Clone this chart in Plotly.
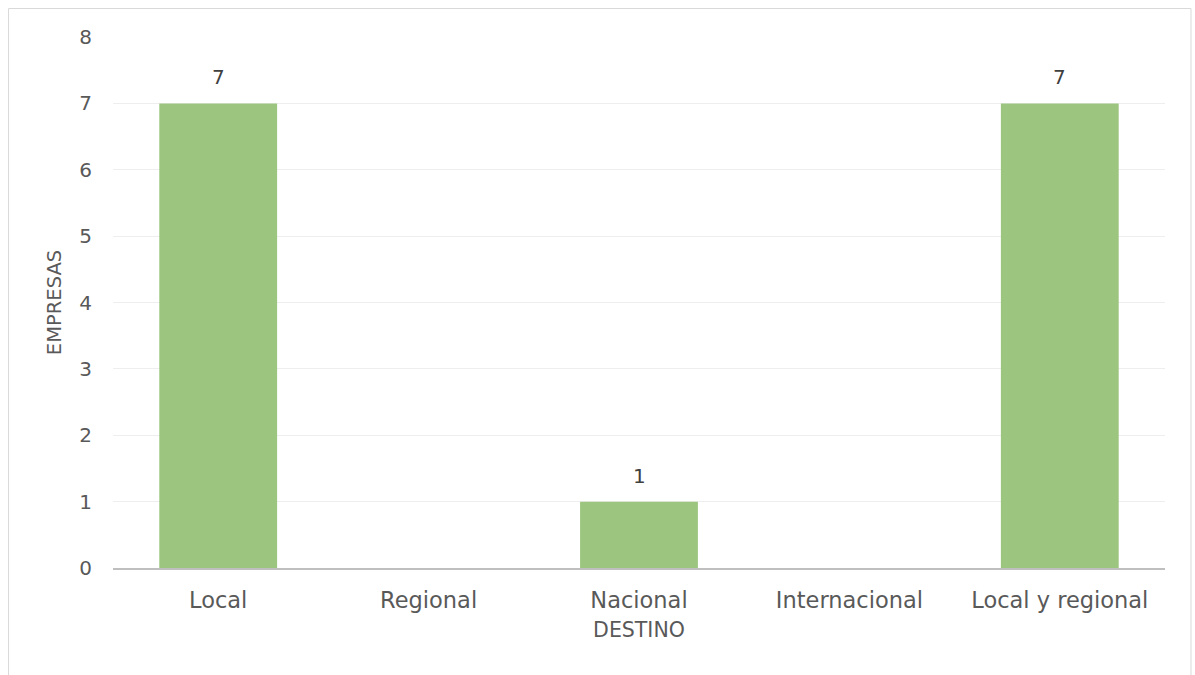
import plotly.graph_objects as go

categories = ["Local", "Regional", "Nacional", "Internacional", "Local y regional"]
empresas = [7, 0, 1, 0, 7]
y_ticks = [0, 1, 2, 3, 4, 5, 6, 7, 8]

FONT = "DejaVu Sans, sans-serif"
GREY_TEXT = "#595959"

fig = go.Figure(
    go.Bar(
        x=categories,
        y=empresas,
        marker=dict(color="#9CC57F", line=dict(width=0)),
        hoverinfo="x+y",
    )
)

# value labels above each non-empty bar
for cat, val in zip(categories, empresas):
    if val > 0:
        fig.add_annotation(
            x=cat,
            y=val,
            text=str(val),
            showarrow=False,
            yanchor="bottom",
            yshift=12,
            font=dict(family=FONT, size=20, color="#404040"),
        )

fig.update_layout(
    width=1195,
    height=675,
    margin=dict(l=113, r=30, t=37, b=107),
    paper_bgcolor="white",
    plot_bgcolor="white",
    bargap=0.44,
    showlegend=False,
    font=dict(family=FONT, size=20, color=GREY_TEXT),
    xaxis=dict(
        title=dict(text="DESTINO", font=dict(size=20.5, color=GREY_TEXT), standoff=11),
        tickfont=dict(size=22.5, color=GREY_TEXT),
        showgrid=False,
        showline=True,
        linecolor="#BFBFBF",
        linewidth=2,
        ticks="",
        ticklabelstandoff=11,
    ),
    yaxis=dict(
        title=dict(text="EMPRESAS", font=dict(size=19.5, color=GREY_TEXT), standoff=12),
        tickfont=dict(size=20, color=GREY_TEXT),
        range=[0, 8],
        tickvals=y_ticks,
        showgrid=True,
        gridcolor="#EEEEEE",
        gridwidth=1,
        zeroline=False,
        showline=False,
        ticks="",
        ticklabelstandoff=20,
    ),
    shapes=[
        dict(
            type="rect",
            xref="paper",
            yref="paper",
            x0=-0.0993,
            x1=1.0247,
            y0=-0.25,
            y1=1.0537,
            line=dict(color="#D9D9D9", width=1),
            fillcolor="rgba(0,0,0,0)",
            layer="below",
        )
    ],
)

fig.write_html("out.html")
